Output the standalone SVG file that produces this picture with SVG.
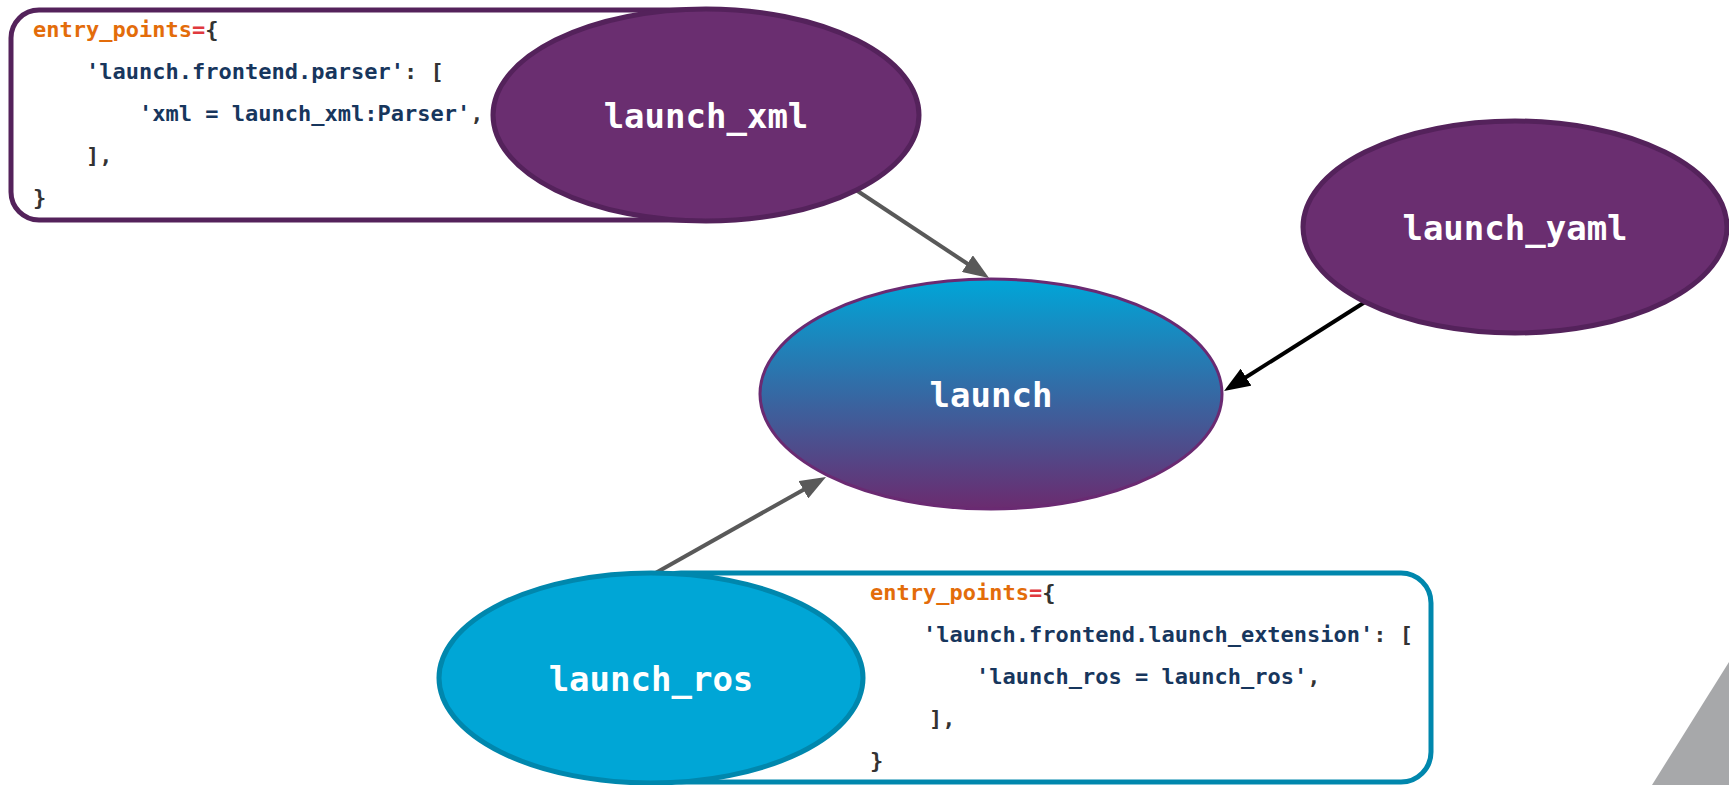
<svg xmlns="http://www.w3.org/2000/svg" width="1729" height="785" viewBox="0 0 1729 785">
  <style>
    .node-label { font-family: "DejaVu Sans Mono", "Liberation Mono", monospace; font-weight: bold; font-size: 34px; fill: #ffffff; text-anchor: middle; }
    .code { font-family: "DejaVu Sans Mono", "Liberation Mono", monospace; font-weight: bold; font-size: 22px; fill: #333333; }
    .kw { fill: #e36c0a; }
    .op { fill: #e0393e; }
    .str { fill: #17365d; }
    .purple { fill: #6a2e70; stroke: #54225b; stroke-width: 5; }
    .cyan { fill: #00a6d6; stroke: #0087ad; stroke-width: 5; }
    .edge-gray { fill: none; stroke: #595959; stroke-width: 4; }
    .edge-black { fill: none; stroke: #000000; stroke-width: 4; }
  </style>
  <defs>
    <linearGradient id="launchFill" x1="0" y1="0" x2="0" y2="1">
      <stop offset="0" stop-color="#00a6d8"/>
      <stop offset="1" stop-color="#6b2b6f"/>
    </linearGradient>
    <marker id="arrowGray" markerUnits="userSpaceOnUse" markerWidth="26" markerHeight="20" refX="16" refY="10" orient="auto">
      <path d="M0,0 L26,10 L0,20 z" fill="#595959"/>
    </marker>
    <marker id="arrowBlack" markerUnits="userSpaceOnUse" markerWidth="26" markerHeight="20" refX="16" refY="10" orient="auto">
      <path d="M0,0 L26,10 L0,20 z" fill="#000000"/>
    </marker>
  </defs>

  <rect width="1729" height="785" fill="#ffffff"/>

  <!-- corner decoration -->
  <polygon points="1729,662 1729,785 1652,785" fill="#a7a8aa"/>

  <!-- launch_xml entry point snippet -->
  <g id="xml-entry-points">
    <rect x="11" y="10" width="700" height="210" rx="28" fill="#ffffff" stroke="#54225b" stroke-width="5"/>
    <text class="code" x="33" y="37"><tspan class="kw">entry_points</tspan><tspan class="op">=</tspan>{</text>
    <text class="code" x="86" y="79"><tspan class="str">'launch.frontend.parser'</tspan>: [</text>
    <text class="code" x="139" y="121"><tspan class="str">'xml = launch_xml:Parser'</tspan>,</text>
    <text class="code" x="86" y="163">],</text>
    <text class="code" x="33" y="205">}</text>
  </g>

  <!-- launch_ros entry point snippet -->
  <g id="ros-entry-points">
    <rect x="651" y="573" width="780" height="209" rx="30" fill="#ffffff" stroke="#0087ad" stroke-width="5"/>
    <text class="code" x="870" y="600"><tspan class="kw">entry_points</tspan><tspan class="op">=</tspan>{</text>
    <text class="code" x="923" y="642"><tspan class="str">'launch.frontend.launch_extension'</tspan>: [</text>
    <text class="code" x="976" y="684"><tspan class="str">'launch_ros = launch_ros'</tspan>,</text>
    <text class="code" x="929" y="726">],</text>
    <text class="code" x="870" y="768">}</text>
  </g>

  <!-- connectors -->
  <g id="connectors">
    <path class="edge-gray" d="M856,190 L980.7,272.5" marker-end="url(#arrowGray)"/>
    <path class="edge-black" d="M1365,302 L1232.5,385.7" marker-end="url(#arrowBlack)"/>
    <path class="edge-gray" d="M652,575 L817.3,481.9" marker-end="url(#arrowGray)"/>
  </g>

  <g id="launch_xml">
    <ellipse class="purple" cx="706" cy="115" rx="213" ry="106"/>
    <text class="node-label" x="706" y="128">launch_xml</text>
  </g>

  <g id="launch_yaml">
    <ellipse class="purple" cx="1515" cy="227" rx="212" ry="106"/>
    <text class="node-label" x="1515" y="240">launch_yaml</text>
  </g>

  <g id="launch">
    <ellipse cx="991" cy="394" rx="231" ry="115" fill="url(#launchFill)" stroke="#6a2a72" stroke-width="3"/>
    <text class="node-label" x="991" y="407">launch</text>
  </g>

  <g id="launch_ros">
    <ellipse class="cyan" cx="651" cy="678" rx="212" ry="105"/>
    <text class="node-label" x="651" y="691">launch_ros</text>
  </g>
</svg>
